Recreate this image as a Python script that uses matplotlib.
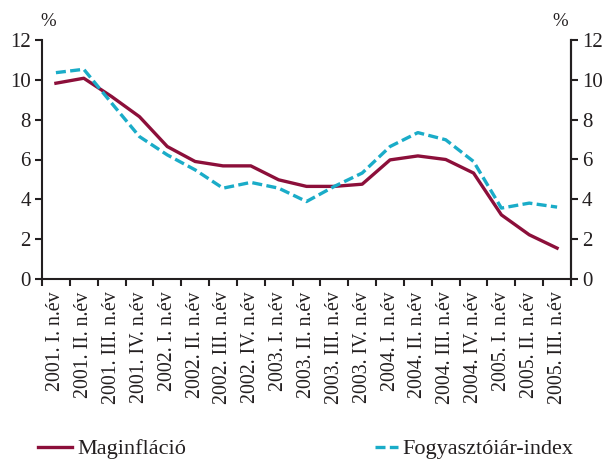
import matplotlib
matplotlib.use("Agg")
import matplotlib.pyplot as plt
import numpy as np

categories = ["2001. I. n.év", "2001. II. n.év", "2001. III. n.év", "2001. IV. n.év",
              "2002. I. n.év", "2002. II. n.év", "2002. III. n.év", "2002. IV. n.év",
              "2003. I. n.év", "2003. II. n.év", "2003. III. n.év", "2003. IV. n.év",
              "2004. I. n.év", "2004. II. n.év", "2004. III. n.év", "2004. IV. n.év",
              "2005. I. n.év", "2005. II. n.év", "2005. III. n.év"]
maginflacio = [9.83, 10.08, 9.16, 8.15, 6.65, 5.9, 5.68, 5.68, 4.98, 4.65, 4.65, 4.76,
               5.98, 6.18, 6.0, 5.32, 3.22, 2.22, 1.55]
fogyasztoiar = [10.36, 10.53, 8.83, 7.15, 6.23, 5.48, 4.56, 4.85, 4.56, 3.89, 4.65, 5.32,
                6.65, 7.35, 6.99, 5.9, 3.56, 3.81, 3.61]

plt.rcParams['font.family'] = ['Liberation Serif', 'DejaVu Serif']
fig = plt.figure(figsize=(6.03, 4.59), dpi=100)
ax = fig.add_axes([42/603, 1-279/459, 529/603, 239/459])

x = np.arange(len(categories))
red = '#8c0f3a'
cyan = '#1aacc8'
dark = '#231f20'
dash = (0, (3.0, 1.3))
ax.plot(x, maginflacio, color=red, lw=2.4, label='Maginfláció')
ax.plot(x, fogyasztoiar, color=cyan, lw=2.4, ls=dash, label='Fogyasztóiár-index')

ax.set_xlim(-0.5, len(categories) - 0.5)
ax.set_ylim(0, 12)
ax.set_yticks(range(0, 13, 2))
ax.set_xticks(np.arange(len(categories) + 1) - 0.5)
ax.set_xticklabels([])
ax.set_xticks(x, minor=True)
ax.set_xticklabels(categories, minor=True, rotation=90, fontsize=14.3, color=dark)
ax.tick_params(axis='x', which='minor', length=0, pad=9)
ax.tick_params(axis='x', which='major', length=5, width=1.5, direction='out', color=dark)
ax.tick_params(axis='y', length=5, width=1.5, direction='out', labelsize=15, pad=3, color=dark,
               labelcolor=dark)
ax.spines['top'].set_visible(False)
for s in ['left', 'right', 'bottom']:
    ax.spines[s].set_linewidth(1.5)
    ax.spines[s].set_color(dark)

ax2 = ax.twinx()
ax2.set_ylim(0, 12)
ax2.set_yticks(range(0, 13, 2))
ax2.tick_params(axis='y', length=5, width=1.5, direction='out', labelsize=15, pad=3, color=dark,
                labelcolor=dark)
for s in ['top', 'left', 'bottom']:
    ax2.spines[s].set_visible(False)
ax2.spines['right'].set_linewidth(1.5)
ax2.spines['right'].set_color(dark)

fig.text(48/603, 1-22/459, '%', fontsize=13.5, ha='center', va='center', color=dark)
fig.text(560/603, 1-22/459, '%', fontsize=13.5, ha='center', va='center', color=dark)

fig.legend([ax.lines[0]], ['Maginfláció'], loc='center left', bbox_to_anchor=(38/603, 1-449/459),
           frameon=False, fontsize=16, handlelength=1.55, handletextpad=0.2, borderaxespad=0,
           borderpad=0, labelcolor=dark)
fig.legend([ax.lines[1]], ['Fogyasztóiár-index'], loc='center left', bbox_to_anchor=(375/603, 1-449/459),
           frameon=False, fontsize=16, handlelength=1.05, handletextpad=0.2, borderaxespad=0,
           borderpad=0, labelcolor=dark)

fig.savefig('out.png', dpi=100)
